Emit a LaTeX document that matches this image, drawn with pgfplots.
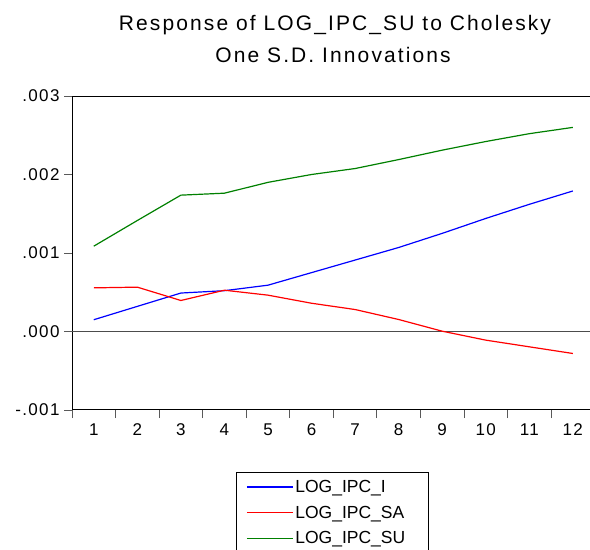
\documentclass[border=0pt]{standalone}
\usepackage{pgfplots}
\pgfplotsset{compat=1.18}
\usepackage{fontspec}
\setmainfont{Liberation Sans}
\newfontfamily\titlefont[LetterSpace=10]{Liberation Sans}
\newfontfamily\tickfont[LetterSpace=8]{Liberation Sans}
\definecolor{eblue}{RGB}{0,0,255}
\definecolor{ered}{RGB}{255,0,0}
\definecolor{egreen}{RGB}{0,128,0}
\begin{document}
\begin{tikzpicture}
\useasboundingbox (0,0) rectangle (590bp,550bp);
\node[anchor=base, font=\titlefont\fontsize{21bp}{24bp}\selectfont] at (335bp,519bp) {Response of LOG\_IPC\_SU to Cholesky};
\node[anchor=base, font=\titlefont\fontsize{21bp}{24bp}\selectfont] at (333bp,487bp) {One S.D. Innovations};
\begin{axis}[
  at={(72bp,140bp)}, anchor=south west,
  scale only axis, width=522.6bp, height=314bp,
  xmin=0.5, xmax=12.5, ymin=-0.001, ymax=0.003,
  scaled y ticks=false,
  axis line style={black, line width=1bp},
  ytick={-0.001,0,0.001,0.002,0.003},
  yticklabels={-.001,.000,.001,.002,.003},
  extra y ticks={0},
  extra y tick labels={},
  extra y tick style={grid=major, major grid style={gray!60!black, line width=1bp}, tick style={draw=none}},
  xtick={0.5,1.5,...,12.5},
  xticklabels={},
  extra x ticks={1,2,...,12},
  extra x tick labels={1,2,3,4,5,6,7,8,9,10,11,12},
  extra x tick style={tick style={draw=none}},
  tick align=outside,
  major tick length=8bp,
  tick style={gray!70!black, line width=0.8bp},
  xtick pos=bottom, ytick pos=left,
  /pgf/number format/assume math mode=true,
  tick label style={font=\tickfont\fontsize{17bp}{20bp}\selectfont},
  yticklabel style={xshift=-1bp},
  xticklabel style={yshift=-2bp},
  legend style={at={(0.3138,-0.1975)}, anchor=north west,
    draw=black, font=\fontsize{17.5bp}{20bp}\selectfont,
    inner xsep=10bp, inner ysep=6bp, row sep=8bp,
    /tikz/every even column/.append style={column sep=7bp}},
  legend cell align=left,
  legend image code/.code={\draw[#1, line width=1.2bp] (0bp,0bp) -- (46bp,0bp);},
  clip=false,
]
\addplot[eblue, line width=1.2bp] coordinates {
(1,0.00015) (2,0.00032) (3,0.00049) (4,0.00052) (5,0.00059) (6,0.00075)
(7,0.00091) (8,0.00107) (9,0.00125) (10,0.00144) (11,0.00162) (12,0.00179)};
\addplot[ered, line width=1.2bp] coordinates {
(1,0.000556) (2,0.000565) (3,0.000395) (4,0.000526) (5,0.000463) (6,0.00036)
(7,0.00028) (8,0.000153) (9,0.000004) (10,-0.00011) (11,-0.000195) (12,-0.00028)};
\addplot[egreen, line width=1.2bp] coordinates {
(1,0.001087) (2,0.001414) (3,0.001737) (4,0.001762) (5,0.0019) (6,0.002)
(7,0.002076) (8,0.00219) (9,0.00231) (10,0.00242) (11,0.00252) (12,0.0026)};
\legend{\makebox[121bp][l]{LOG\_IPC\_I}, \makebox[121bp][l]{LOG\_IPC\_SA}, \makebox[121bp][l]{LOG\_IPC\_SU}}
\end{axis}
\end{tikzpicture}
\end{document}
